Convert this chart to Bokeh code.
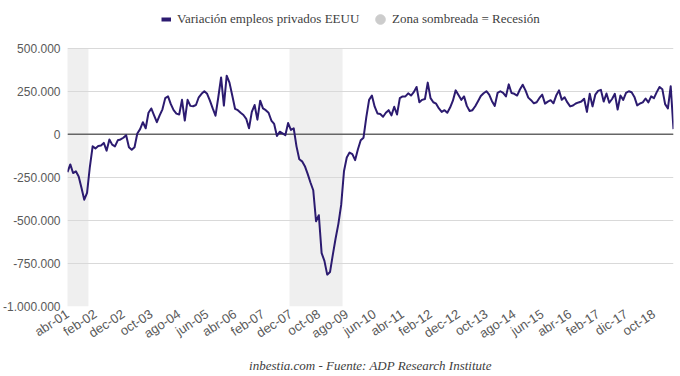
import pandas as pd
from bokeh.plotting import figure
from bokeh.models import Range1d, FixedTicker, Span, Legend, LegendItem
from bokeh.embed import file_html
from bokeh.resources import INLINE

# ---------------- data ----------------
primer_mes = "2001-04"
# monthly change in US private employment (thousands), Apr 2001 - May 2019
empleos_miles = [
    -220, -175, -225, -215, -245, -310, -380, -340, -190, -70,
    -82, -68, -65, -50, -95, -30, -60, -70, -35, -30,
    -20, -5, -75, -90, -75, 5, 30, 70, 35, 125,
    150, 110, 70, 110, 145, 210, 220, 175, 140, 120,
    115, 200, 80, 200, 165, 163, 170, 215, 235, 250,
    235, 195, 150, 108, 215, 330, 167, 340, 300, 225,
    148, 140, 125, 112, 90, 35, 130, 170, 85, 195,
    150, 140, 125, 80, 60, -10, 15, 5, -5, 65,
    25, 35, -70, -145, -157, -185, -230, -280, -325, -505,
    -470, -690, -735, -815, -800, -700, -605, -520, -410, -215,
    -135, -106, -115, -150, -87, -35, -20, 100, 200, 225,
    160, 121, 118, 102, 125, 140, 110, 160, 115, 210,
    220, 220, 238, 225, 245, 275, 186, 200, 205, 300,
    210, 186, 178, 150, 130, 140, 125, 155, 195, 255,
    228, 200, 220, 165, 135, 140, 163, 192, 222, 238,
    250, 230, 192, 165, 240, 250, 240, 220, 290, 240,
    235, 225, 260, 288, 255, 213, 198, 180, 186, 211,
    230, 178, 190, 198, 180, 225, 255, 200, 215, 185,
    162, 167, 179, 185, 190, 206, 130, 235, 162, 230,
    252, 258, 190, 237, 183, 205, 235, 144, 225, 200,
    240, 250, 244, 217, 168, 179, 185, 208, 185, 220,
    210, 245, 275, 262, 175, 150, 279, 30,
]
tick_labels = ["abr-01", "feb-02", "dec-02", "oct-03", "ago-04", "jun-05",
               "abr-06", "feb-07", "dec-07", "oct-08", "ago-09", "jun-10",
               "abr-11", "feb-12", "dec-12", "oct-13", "ago-14", "jun-15",
               "abr-16", "feb-17", "dic-17", "oct-18"]
recesion_inicio = ["2001-04", "2007-12"]
recesion_fin = ["2001-11", "2009-06"]
y_ticks = [-1000000, -750000, -500000, -250000, 0, 250000, 500000]
y_tick_labels = ["-1.000.000", "-750.000", "-500.000", "-250.000", "0",
                 "250.000", "500.000"]

serie_label = "Variación empleos privados EEUU"
recesion_label = "Zona sombreada = Recesión"
fuente = "inbestia.com - Fuente: ADP Research Institute"

# ---------------- derived ----------------
base = pd.Period(primer_mes, freq="M")
xs = list(range(len(empleos_miles)))
ys = [v * 1000 for v in empleos_miles]
r_left = [(pd.Period(s, freq="M") - base).n - 0.5 for s in recesion_inicio]
r_right = [(pd.Period(e, freq="M") - base).n + 0.5 for e in recesion_fin]

PURPLE = "#2c1b70"
SHADE = "#efefef"
GRID = "#d9d9d9"
TXT = "#595959"
LEG_TXT = "#404040"

# the frame reaches the top of the canvas so the legend can sit inside it;
# the value scale still runs -1.000.000 .. 500.000 over the gridded area
FRAME_H = 308
GRID_H = 260
y_lo, y_hi = y_ticks[0], y_ticks[-1]
y_top = y_lo + (y_hi - y_lo) * FRAME_H / GRID_H

p = figure(width=680, height=376, output_backend="svg", toolbar_location=None,
           x_range=Range1d(0, len(xs) - 1), y_range=Range1d(y_lo, y_top),
           min_border_left=66, min_border_right=7, min_border_top=0,
           min_border_bottom=68)
p.outline_line_color = None
p.background_fill_color = "white"

p.quad(left=r_left, right=r_right, bottom=y_lo, top=y_hi,
       fill_color=SHADE, line_color=None, level="image")

p.add_layout(Span(location=0, dimension="width", line_color="#666666",
                  line_width=1.5, level="underlay"))

line_r = p.line(xs, ys, line_color=PURPLE, line_width=2, line_join="round")

# legend-only renderers (outside the visible range)
dash_r = p.line(x=[-50, -49], y=[0, 0], line_color=PURPLE, line_width=4)
circ_r = p.scatter(x=[-50], y=[0], marker="circle", size=10,
                   fill_color="#cccccc", line_color="#cccccc")

# grid
p.xgrid.visible = False
p.ygrid.grid_line_color = GRID
p.ygrid.grid_line_width = 1
p.ygrid.ticker = FixedTicker(ticks=y_ticks)

# y axis
p.yaxis.ticker = FixedTicker(ticks=y_ticks)
p.yaxis.major_label_overrides = dict(zip(y_ticks, y_tick_labels))
p.yaxis.axis_line_color = None
p.yaxis.major_tick_line_color = None
p.yaxis.minor_tick_line_color = None
p.yaxis.major_tick_out = 0
p.yaxis.major_tick_in = 0
p.yaxis.minor_tick_out = 0
p.yaxis.major_label_standoff = 7
p.yaxis.major_label_text_font = "Liberation Sans"
p.yaxis.major_label_text_font_size = "12px"
p.yaxis.major_label_text_color = TXT

# x axis
x_ticks = list(range(0, 10 * len(tick_labels), 10))
p.xaxis.ticker = FixedTicker(ticks=x_ticks)
p.xaxis.major_label_overrides = dict(zip(x_ticks, tick_labels))
p.xaxis.major_label_orientation = 0.58
p.xaxis.axis_line_color = None
p.xaxis.major_tick_line_color = None
p.xaxis.minor_tick_line_color = None
p.xaxis.major_tick_out = 0
p.xaxis.major_tick_in = 0
p.xaxis.minor_tick_out = 0
p.xaxis.major_label_standoff = 6
p.xaxis.major_label_text_font = "Liberation Sans"
p.xaxis.major_label_text_font_size = "13px"
p.xaxis.major_label_text_color = TXT
p.xaxis.axis_label = fuente
p.xaxis.axis_label_standoff = 8
p.xaxis.axis_label_text_font = "Liberation Serif"
p.xaxis.axis_label_text_font_style = "italic"
p.xaxis.axis_label_text_font_size = "13px"
p.xaxis.axis_label_text_color = LEG_TXT

common = dict(orientation="horizontal", border_line_color=None,
              background_fill_alpha=0, label_text_font="Liberation Serif",
              label_text_font_size="13px", label_text_color=LEG_TXT,
              label_text_baseline="middle", padding=0, margin=0, spacing=0)

leg1 = Legend(items=[LegendItem(label=serie_label, renderers=[dash_r])],
              location=(94, 277), glyph_width=10, glyph_height=20,
              label_height=20, label_standoff=6, **common)
leg2 = Legend(items=[LegendItem(label=recesion_label, renderers=[circ_r])],
              location=(301, 275), glyph_width=24, glyph_height=24,
              label_height=24, label_standoff=0, **common)
p.add_layout(leg1, "center")
p.add_layout(leg2, "center")

open("out.html", "w").write(file_html(p, INLINE))
